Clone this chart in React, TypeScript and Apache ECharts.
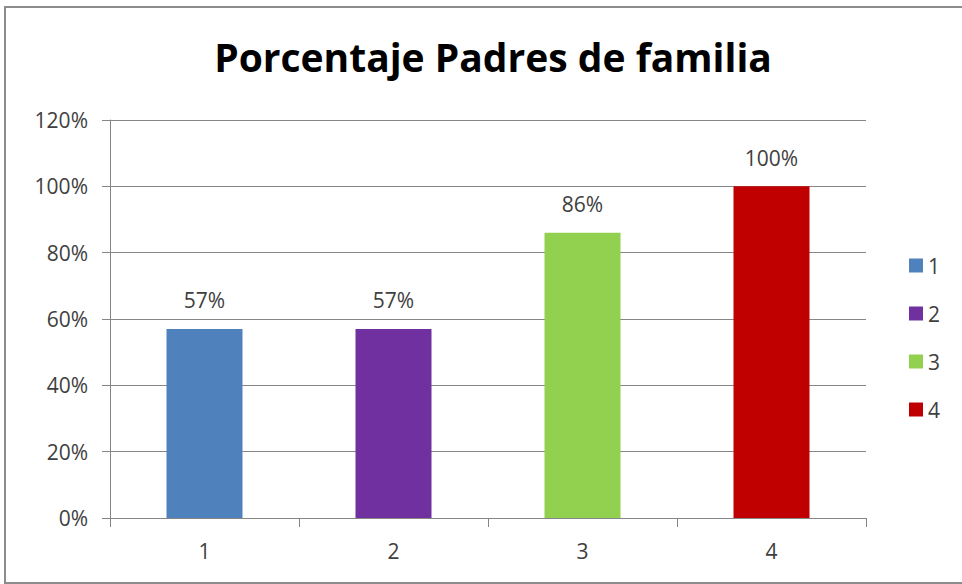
import React, { useEffect, useRef } from "react";
import * as echarts from "echarts";

const categories = ["1", "2", "3", "4"];
const seriesNames = ["1", "2", "3", "4"];
const values = [57, 57, 86, 100];
const colors = ["#4F81BD", "#7030A0", "#92D050", "#C00000"];
const yTicks = { min: 0, max: 120, interval: 20 };
const title = "Porcentaje Padres de familia";

export default function App() {
  const ref = useRef<HTMLDivElement>(null);
  useEffect(() => {
    document.body.style.margin = "0";
    const chart = echarts.init(ref.current!, null, { renderer: "svg" });
    const font = "'Open Sans', sans-serif";
    const series = seriesNames.map((name, i) => ({
      name,
      type: "bar" as const,
      stack: "all",
      barWidth: 76,
      itemStyle: { color: colors[i] },
      label: {
        show: true,
        position: "top" as const,
        distance: 18,
        formatter: "{c}%",
        fontFamily: font,
        fontSize: 21,
        color: "#404040",
      },
      data: categories.map((_, j) => (j === i ? values[i] : null)),
    }));
    chart.setOption({
      animation: false,
      backgroundColor: "#ffffff",
      title: {
        text: title,
        left: 488,
        textAlign: "center",
        top: 32,
        textStyle: { fontFamily: font, fontWeight: "bold", fontSize: 39, color: "#000000" },
      },
      graphic: [
        {
          type: "rect",
          shape: { x: 5, y: 7, width: 965, height: 576 },
          style: { fill: "none", stroke: "#8c8c8c", lineWidth: 2 },
          silent: true,
        },
      ],
      legend: {
        orient: "vertical",
        left: 909,
        top: 255,
        padding: 0,
        itemWidth: 14,
        itemHeight: 14,
        itemGap: 27,
        icon: "rect",
        textStyle: { fontFamily: font, fontSize: 21, color: "#404040" },
        data: seriesNames,
      },
      grid: { left: 110, right: 96, top: 120, bottom: 66 },
      xAxis: {
        type: "category",
        data: categories,
        axisLine: { lineStyle: { color: "#868686", width: 1 } },
        axisTick: { show: true, length: 9, lineStyle: { color: "#868686" } },
        axisLabel: { fontFamily: font, fontSize: 21, color: "#404040", margin: 22 },
      },
      yAxis: {
        type: "value",
        min: yTicks.min,
        max: yTicks.max,
        interval: yTicks.interval,
        axisLine: { show: true, lineStyle: { color: "#868686" } },
        axisTick: { show: true, length: 8, lineStyle: { color: "#868686" } },
        axisLabel: { fontFamily: font, fontSize: 21, color: "#404040", margin: 22, formatter: "{value}%" },
        splitLine: { lineStyle: { color: "#868686" } },
      },
      series,
    });
    return () => chart.dispose();
  }, []);
  return <div ref={ref} style={{ width: 962, height: 584 }} />;
}
